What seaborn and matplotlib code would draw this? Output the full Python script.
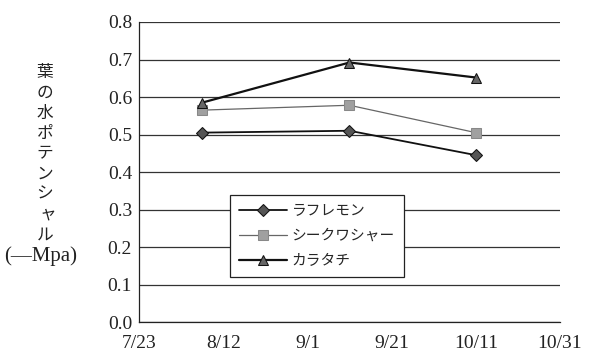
import matplotlib
matplotlib.use("Agg")
import matplotlib.pyplot as plt
import matplotlib.dates as mdates
import pandas as pd
import seaborn as sns

# measurement dates and leaf water potential (-MPa)
dates = ["2001-08-07", "2001-09-11", "2001-10-11"]
rough_lemon = [0.505, 0.51, 0.445]
shiikuwasha = [0.565, 0.578, 0.505]
karatachi = [0.585, 0.692, 0.652]
series_names = ["ラフレモン", "シークワシャー", "カラタチ"]

x_ticks = ["2001-07-23", "2001-08-12", "2001-09-01", "2001-09-21", "2001-10-11", "2001-10-31"]
y_ticks = [0.0, 0.1, 0.2, 0.3, 0.4, 0.5, 0.6, 0.7, 0.8]
ylabel_chars = list("葉の水ポテンシャル")
ylabel_unit = "(—Mpa)"

df = pd.DataFrame({
    "date": pd.to_datetime(dates * 3),
    "value": rough_lemon + shiikuwasha + karatachi,
    "series": [n for n in series_names for _ in dates],
})

sns.set_theme(style="white")
plt.rcParams["font.family"] = ["Liberation Serif", "Noto Sans CJK JP", "DejaVu Sans"]

fig = plt.figure(figsize=(5.9, 3.52), dpi=100)
ax = fig.add_axes([0.2356, 0.0852, 0.7135, 0.8523])

palette = {"ラフレモン": "#111111", "シークワシャー": "#666666", "カラタチ": "#111111"}
markers = {"ラフレモン": "D", "シークワシャー": "s", "カラタチ": "^"}
sns.lineplot(data=df, x="date", y="value", hue="series", style="series",
             palette=palette, markers=markers, dashes=False, ax=ax,
             markersize=7, legend=False)

# per-series styling (line widths, marker fills)
styles = {
    "ラフレモン": dict(lw=1.3, mfc="#555555", mec="#111111", ms=6),
    "シークワシャー": dict(lw=0.9, mfc="#a0a0a0", mec="#888888", ms=7),
    "カラタチ": dict(lw=1.6, mfc="#666666", mec="#111111", ms=7),
}
for line, name in zip(ax.lines, series_names):
    s = styles[name]
    line.set_linewidth(s["lw"])
    line.set_markerfacecolor(s["mfc"])
    line.set_markeredgecolor(s["mec"])
    line.set_markersize(s["ms"])

ax.set_xlim(pd.Timestamp(x_ticks[0]), pd.Timestamp(x_ticks[-1]))
ax.set_ylim(0, 0.8)
ax.set_xticks(pd.to_datetime(x_ticks))
ax.xaxis.set_major_formatter(plt.FuncFormatter(
    lambda v, p: f"{mdates.num2date(v).month}/{mdates.num2date(v).day}"))
ax.set_yticks(y_ticks)
ax.set_yticklabels([f"{v:.1f}" for v in y_ticks])
ax.tick_params(axis="x", direction="in", length=4, width=0.8, color="#222222",
               labelsize=14, pad=9)
ax.tick_params(axis="y", length=0, labelsize=14, pad=5)
for lbl in ax.get_xticklabels() + ax.get_yticklabels():
    lbl.set_color("#222222")

ax.grid(axis="y", color="#333333", lw=0.9)
ax.set_axisbelow(True)
ax.set_xlabel("")
ax.set_ylabel("")
for side in ["top", "right"]:
    ax.spines[side].set_visible(False)
for side in ["left", "bottom"]:
    ax.spines[side].set_color("#222222")
    ax.spines[side].set_linewidth(0.9)

leg = ax.legend(ax.lines, series_names, loc="upper left",
                bbox_to_anchor=(0.216, 0.423), borderaxespad=0,
                frameon=True, fancybox=False,
                prop={"family": ["Noto Sans CJK JP"], "size": 10.6},
                handlelength=3.3, handletextpad=0.3, labelspacing=0.75,
                borderpad=0.6)
leg.get_frame().set_edgecolor("#222222")
leg.get_frame().set_linewidth(0.9)
leg.get_frame().set_facecolor("white")
leg.get_frame().set_alpha(1)

# stacked vertical y label
y0 = 73
for i, ch in enumerate(ylabel_chars):
    xoff = 48 if ch == "ャ" else 45
    fig.text(xoff / 590, 1 - (y0 + i * 20.2) / 352, ch, ha="center", va="center",
             fontsize=12, family=["Noto Sans CJK JP"], color="#222222")
fig.text(41 / 590, 1 - 256 / 352, ylabel_unit, ha="center", va="center",
         fontsize=15, family=["Liberation Serif", "DejaVu Sans"], color="#222222")

fig.savefig("out.png", dpi=100)
